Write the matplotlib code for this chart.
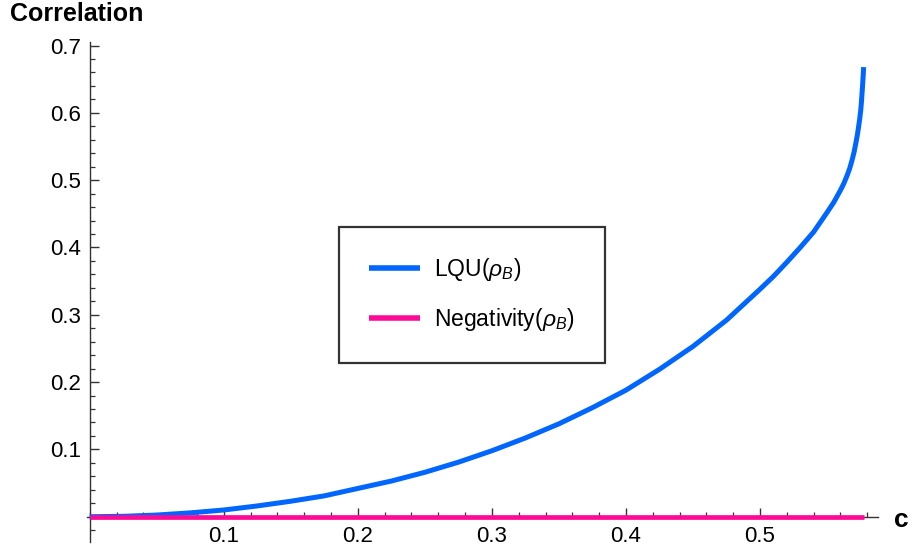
import numpy as np
import matplotlib
matplotlib.use("Agg")
import matplotlib.pyplot as plt
from matplotlib.ticker import MultipleLocator, FixedLocator

plt.rcParams['font.family'] = ['Liberation Sans', 'DejaVu Sans']
plt.rcParams['mathtext.fontset'] = 'custom'
plt.rcParams['mathtext.rm'] = 'Liberation Sans'
plt.rcParams['mathtext.it'] = 'Liberation Sans:italic'

# values
c_vals = [0.0, 0.025, 0.05, 0.075, 0.1, 0.125, 0.15, 0.175, 0.2, 0.225, 0.25, 0.275,
          0.3, 0.325, 0.35, 0.375, 0.4, 0.425, 0.45, 0.475, 0.5, 0.51, 0.52, 0.53,
          0.54, 0.55, 0.555, 0.56, 0.5625, 0.565, 0.567, 0.5687, 0.5702, 0.5715,
          0.5726, 0.5736, 0.5745, 0.5752, 0.5757, 0.5761, 0.5765, 0.5768, 0.5771, 0.5773]
lqu = [0.0, 0.0006, 0.0025, 0.0057, 0.010, 0.016, 0.023, 0.031, 0.042, 0.053, 0.066, 0.081,
       0.098, 0.117, 0.138, 0.162, 0.188, 0.219, 0.253, 0.292, 0.338, 0.357, 0.378, 0.400,
       0.423, 0.452, 0.467, 0.485, 0.495, 0.507, 0.518, 0.530, 0.542, 0.555,
       0.567, 0.580, 0.593, 0.605, 0.617, 0.629, 0.640, 0.650, 0.660, 0.668]
neg = [0.0] * len(c_vals)

x_major = [0.1, 0.2, 0.3, 0.4, 0.5]
y_major = [0.1, 0.2, 0.3, 0.4, 0.5, 0.6, 0.7]

blue = '#0066ff'
pink = '#ff0a96'
axcol = '#333333'

fig = plt.figure(figsize=(9.18, 5.52), dpi=100)
ax = fig.add_axes([0.0948, 0.0188, 0.8616, 0.9048])

ax.plot(c_vals, lqu, color=blue, lw=3.6, solid_capstyle='butt', label=r'LQU($\rho_B$)', zorder=3)
ax.plot(c_vals, neg, color=pink, lw=3.4, solid_capstyle='butt', label=r'Negativity($\rho_B$)', zorder=4)

ax.set_xlim(-0.002, 0.588)
ax.set_ylim(-0.037, 0.705)

for s in ['top', 'right']:
    ax.spines[s].set_visible(False)
ax.spines['left'].set_position(('data', 0))
ax.spines['bottom'].set_position(('data', 0))
for s in ['left', 'bottom']:
    ax.spines[s].set_color(axcol)
    ax.spines[s].set_linewidth(1.0)

ax.xaxis.set_major_locator(FixedLocator(x_major))
ax.xaxis.set_minor_locator(MultipleLocator(0.02))
ax.yaxis.set_major_locator(FixedLocator(y_major))
ax.yaxis.set_minor_locator(MultipleLocator(0.02))
ax.set_xticklabels([f'{v:g}' for v in x_major])
ax.set_yticklabels([f'{v:g}' for v in y_major])

ax.tick_params(axis='both', which='major', direction='in', length=6.5, width=1.0,
               color=axcol, labelsize=16, pad=6)
ax.tick_params(axis='both', which='minor', direction='in', length=3.5, width=0.9, color=axcol)
ax.tick_params(axis='x', which='both', pad=7)

fig.text(0.011, 0.962, 'Correlation', fontsize=18, fontweight='bold', ha='left', va='baseline')
fig.text(0.990, 0.0575, 'c', fontsize=19, fontweight='bold', ha='right', va='center')

leg = ax.legend(loc='upper left', bbox_to_anchor=(0.3696, 0.5893), bbox_transform=fig.transFigure,
                borderaxespad=0, fontsize=16.5, frameon=True, fancybox=False, shadow=False,
                handlelength=2.2, handletextpad=0.65, labelspacing=1.0, borderpad=1.3)
leg.get_frame().set_edgecolor('black')
leg.get_frame().set_linewidth(1.6)
for ln in leg.get_lines():
    ln.set_linewidth(4)

fig.savefig('out.png', dpi=100)
